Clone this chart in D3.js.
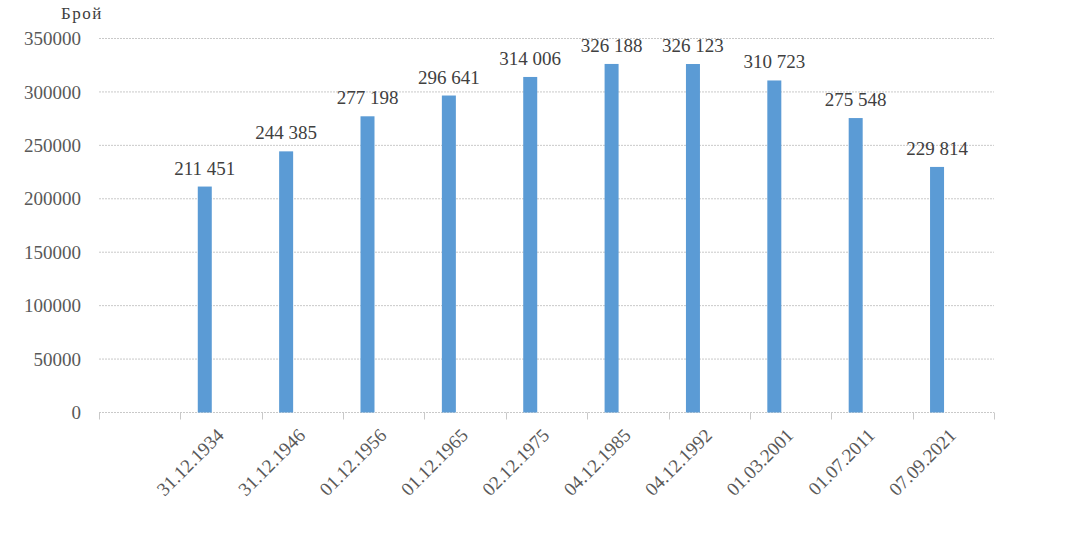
<!DOCTYPE html>
<html>
  <head>
    <meta charset="utf-8">
    <title>Брой</title>
    <script src="https://d3js.org/d3.v7.min.js"></script>
    <style>
      body { margin: 0; background: #fff; }
      svg { display: block; font-family: "Liberation Serif", "Times New Roman", serif; }
      .grid line { stroke: #c9c9c9; stroke-width: 1px; stroke-dasharray: 2,1; }
      .tickLabel { fill: #595959; font-size: 19px; }
      .dataLabel { fill: #404040; font-size: 19px; }
    </style>
  </head>
  <body>
    <svg id="chart" width="1066" height="560"></svg>
    <script>
      // data
      dates = ["31.12.1934", "31.12.1946", "01.12.1956", "01.12.1965", "02.12.1975",
               "04.12.1985", "04.12.1992", "01.03.2001", "01.07.2011", "07.09.2021"];
      counts = [211451, 244385, 277198, 296641, 314006, 326188, 326123, 310723, 275548, 229814];
      yTicks = [0, 50000, 100000, 150000, 200000, 250000, 300000, 350000];
      yTitle = "Брой";

      chart = d3.select("#chart");
      margin = { top: 38.5, right: 72, bottom: 147.5, left: 99 };
      width = 1066;
      height = 560;

      // first slot is left empty in the original
      slots = [""].concat(dates);
      x = d3.scaleBand()
        .domain(slots)
        .range([margin.left, width - margin.right])
        .padding(0);
      y = d3.scaleLinear()
        .domain([0, 350000])
        .range([height - margin.bottom, margin.top]);
      barWidth = 14;
      barCentre = function(d) { return x(d) + x.bandwidth() * 0.3; };

      // gridlines
      chart.append("g")
        .classed("grid", true)
        .selectAll("line")
        .data(yTicks)
        .enter().append("line")
          .attr("x1", x.range()[0])
          .attr("x2", x.range()[1])
          .attr("y1", function(d) { return y(d); })
          .attr("y2", function(d) { return y(d); });

      // category boundary ticks
      boundaries = slots.map(function(d) { return x(d); }).concat([x.range()[1]]);
      chart.append("g")
        .classed("grid", true)
        .selectAll("line")
        .data(boundaries)
        .enter().append("line")
          .style("stroke-dasharray", "none")
          .attr("x1", function(d) { return Math.round(d) + 0.5; })
          .attr("x2", function(d) { return Math.round(d) + 0.5; })
          .attr("y1", y(0))
          .attr("y2", y(0) + 7);

      // y tick labels
      chart.append("g")
        .selectAll("text")
        .data(yTicks)
        .enter().append("text")
          .classed("tickLabel", true)
          .attr("x", 81)
          .attr("y", function(d) { return y(d); })
          .attr("dy", "0.35em")
          .attr("text-anchor", "end")
          .text(function(d) { return d; });

      // axis title
      chart.append("text")
        .attr("x", 61)
        .attr("y", 19)
        .attr("fill", "#404040")
        .style("font-size", "17px")
        .style("letter-spacing", "1.5px")
        .text(yTitle);

      // bars
      chart.append("g")
        .selectAll("rect")
        .data(dates)
        .enter().append("rect")
          .attr("x", function(d) { return barCentre(d) - barWidth / 2; })
          .attr("width", barWidth)
          .attr("y", function(d, i) { return y(counts[i]); })
          .attr("height", function(d, i) { return y(0) - y(counts[i]); })
          .attr("fill", "#5b9bd5");

      // value labels
      format = function(v) { return d3.format(",")(v).replace(/,/g, " "); };
      chart.append("g")
        .selectAll("text")
        .data(dates)
        .enter().append("text")
          .classed("dataLabel", true)
          .attr("x", function(d) { return barCentre(d); })
          .attr("y", function(d, i) { return y(counts[i]) - 12; })
          .attr("text-anchor", "middle")
          .text(function(d, i) { return format(counts[i]); });

      // category labels
      chart.append("g")
        .selectAll("text")
        .data(dates)
        .enter().append("text")
          .classed("tickLabel", true)
          .attr("text-anchor", "end")
          .attr("transform", function(d) {
            return "translate(" + (x(d) + x.bandwidth() / 2 + 4) + "," + (y(0) + 24) + ") rotate(-45)";
          })
          .text(function(d) { return d; });
    </script>
  </body>
</html>
